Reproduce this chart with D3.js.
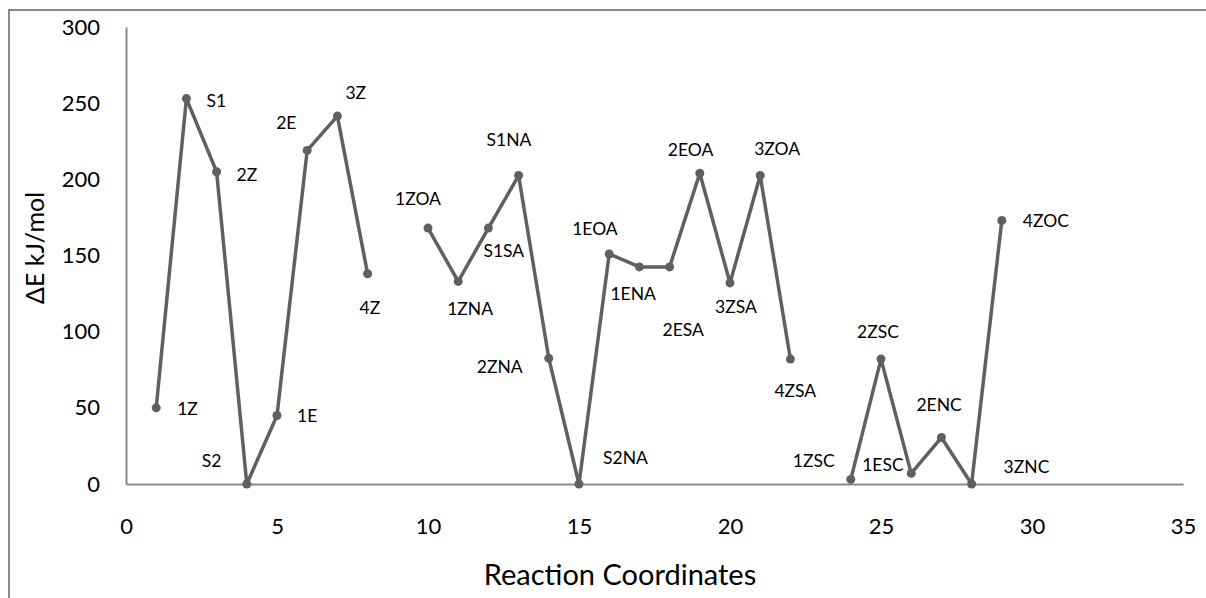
<!DOCTYPE html>
<html>
<head>
<meta charset="utf-8">
<script src="https://cdn.jsdelivr.net/npm/d3@7"></script>
<style>
  body { margin: 0; background: #fff; }
  svg { display: block; font-family: Lato, "Open Sans", sans-serif; }
</style>
</head>
<body>
<div id="chart"></div>
<script>
	// reaction coordinate (x), energy in kJ/mol (null = gap in the line)
	var coords  = [1, 2, 3, 4, 5, 6, 7, 8, 9, 10, 11, 12, 13, 14, 15, 16, 17, 18, 19, 20, 21, 22, 23, 24, 25, 26, 27, 28, 29];
	var energy  = [50, 253, 205, 0, 45, 219, 241.5, 138, null, 168, 133, 168, 202.5, 82.5, 0, 151, 142.5, 142.5, 204, 132, 202.5, 82, null, 3, 82, 7, 30.5, 0, 173];
	var names   = ["1Z", "S1", "2Z", "S2", "1E", "2E", "3Z", "4Z", "", "1ZOA", "1ZNA", "S1SA", "S1NA", "2ZNA", "S2NA", "1EOA", "1ENA", "2ESA", "2EOA", "3ZSA", "3ZOA", "4ZSA", "", "1ZSC", "2ZSC", "1ESC", "2ENC", "3ZNC", "4ZOC"];
	var xTicks  = [0, 5, 10, 15, 20, 25, 30, 35];
	var yTicks  = [0, 50, 100, 150, 200, 250, 300];

	// where each label sits relative to its point (px)
	var labelOff = [
		[21, 1], [20, 2], [20, 3], [-45, -23], [20, 0], [-31, -28], [8, -23], [-8, 34], [0, 0],
		[-33, -29], [-11, 27], [-5, 23], [-32, -36], [-72, 9], [24, -26], [-37, -25], [-29, 27],
		[-7, 63], [-32, -23], [-15, 24], [-6, -27], [-16, 32], [0, 0],
		[-58, -19], [-24, -27], [-49, -8], [-25, -33], [32, -17], [21, 0]
	];

	var W = 1206, H = 598;
	var lineColor = "#606060";
	var axisColor = "#8a8a8a";

	var svg = d3.select("#chart").append("svg")
		.attr("width", W)
		.attr("height", H);

	// outer chart border (runs off the right and bottom edges)
	svg.append("rect")
		.attr("x", 9).attr("y", 10)
		.attr("width", 1400).attr("height", 800)
		.attr("fill", "none")
		.attr("stroke", axisColor)
		.attr("stroke-width", 2);

	var x = d3.scaleLinear().domain([0, 35]).range([126, 1183]);
	var y = d3.scaleLinear().domain([0, 300]).range([484, 27]);

	var yAxis = svg.append("g")
		.attr("transform", "translate(126,0)")
		.call(d3.axisLeft(y).tickValues(yTicks).tickSize(0).tickSizeOuter(0).tickPadding(26));

	var xAxis = svg.append("g")
		.attr("transform", "translate(0,484)")
		.call(d3.axisBottom(x).tickValues(xTicks).tickSize(0).tickSizeOuter(0).tickPadding(34));

	[xAxis, yAxis].forEach(function(ax){
		ax.select(".domain").attr("stroke", axisColor).attr("stroke-width", 2);
		ax.selectAll("text")
			.attr("font-family", "Lato, sans-serif")
			.attr("font-size", "22px")
			.attr("fill", "#000");
	});

	svg.append("text")
		.attr("x", 620).attr("y", 585)
		.attr("text-anchor", "middle")
		.attr("font-size", "29px")
		.text("Reaction Coordinates");

	svg.append("text")
		.attr("transform", "translate(44,248) rotate(-90)")
		.attr("text-anchor", "middle")
		.attr("font-size", "25px")
		.text("\u0394E kJ/mol");

	var pts = coords.map(function(c, i){
		return { x: c, v: energy[i], name: names[i], off: labelOff[i] };
	});

	var line = d3.line()
		.defined(function(d){ return d.v !== null; })
		.x(function(d){ return x(d.x); })
		.y(function(d){ return y(d.v); });

	svg.append("path")
		.datum(pts)
		.attr("d", line)
		.attr("fill", "none")
		.attr("stroke", lineColor)
		.attr("stroke-width", 3.5)
		.attr("stroke-linejoin", "round");

	var shown = pts.filter(function(d){ return d.v !== null; });

	svg.selectAll("circle.pt")
		.data(shown)
		.enter().append("circle")
		.attr("class", "pt")
		.attr("cx", function(d){ return x(d.x); })
		.attr("cy", function(d){ return y(d.v); })
		.attr("r", 4.5)
		.attr("fill", lineColor);

	svg.selectAll("text.lbl")
		.data(shown)
		.enter().append("text")
		.attr("class", "lbl")
		.attr("x", function(d){ return x(d.x) + d.off[0]; })
		.attr("y", function(d){ return y(d.v) + d.off[1]; })
		.attr("dy", "0.35em")
		.attr("font-size", "17.5px")
		.attr("fill", "#000")
		.text(function(d){ return d.name; });
</script>
</body>
</html>
